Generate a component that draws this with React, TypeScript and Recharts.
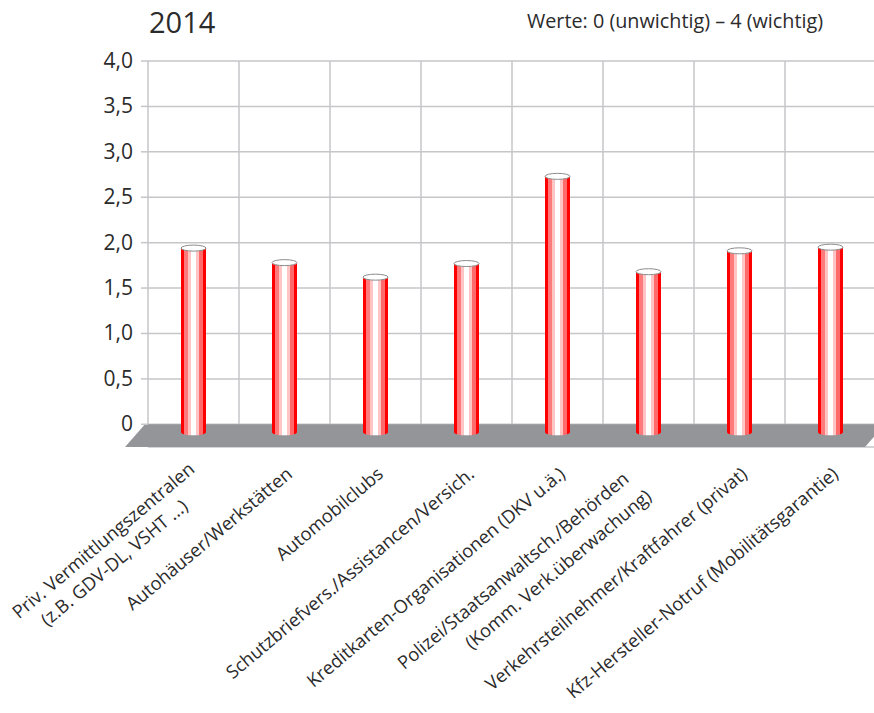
import React from 'react';
import { BarChart, Bar, XAxis, YAxis, CartesianGrid, ReferenceArea } from 'recharts';

const categories = [
  'Priv. Vermittlungszentralen\n(z.B. GDV-DL, VSHT ...)',
  'Autohäuser/Werkstätten',
  'Automobilclubs',
  'Schutzbriefvers./Assistancen/Versich.',
  'Kreditkarten-Organisationen (DKV u.ä.)',
  'Polizei/Staatsanwaltsch./Behörden\n(Komm. Verk.überwachung)',
  'Verkehrsteilnehmer/Kraftfahrer (privat)',
  'Kfz-Hersteller-Notruf (Mobilitätsgarantie)',
];
const values2014 = [1.94, 1.78, 1.62, 1.77, 2.73, 1.68, 1.91, 1.95];
const yTicks = [0, 0.5, 1, 1.5, 2, 2.5, 3, 3.5, 4];
const yTickLabels = ['0', '0,5', '1,0', '1,5', '2,0', '2,5', '3,0', '3,5', '4,0'];
const title = '2014';
const subtitle = 'Werte: 0 (unwichtig) – 4 (wichtig)';

const data = categories.map((name, i) => ({ name, value: values2014[i] }));

const FONT = '"Open Sans", sans-serif';
const TEXT = '#2b2b2b';
const GRID = '#c6c6c8';
const FLOOR = '#939598';

// per-label line placement (rotated frame: along text, perpendicular)
const lineLayout: Record<number, [number, number][]> = {
  0: [[-2, -8], [-31, 16]],
  5: [[-24, -14], [-18, 14]],
};

const XTick = (props: any) => {
  const { x, payload, index } = props;
  const lines = String(payload.value).split('\n');
  const layout = lineLayout[index] || [[0, 0]];
  return (
    <g transform={`translate(${x + 9},${476}) rotate(-40)`}>
      {lines.map((l, i) => (
        <text
          key={i}
          x={layout[i] ? layout[i][0] : 0}
          y={layout[i] ? layout[i][1] : 0}
          textAnchor="end"
          fontSize={18.3}
          fontFamily={FONT}
          fill={TEXT}
        >
          {l}
        </text>
      ))}
    </g>
  );
};

const YTick = (props: any) => {
  const { x, y, payload } = props;
  const idx = yTicks.indexOf(payload.value);
  return (
    <text x={x} y={y} dy={7} textAnchor="end" fontSize={21} fontFamily={FONT} fill={TEXT}>
      {yTickLabels[idx]}
    </text>
  );
};

const Cylinder = (props: any) => {
  const { x, y, width, height } = props;
  const rx = width / 2;
  const ry = 3;
  const bottom = y + height + 8;
  const d = `M${x},${y} L${x},${bottom} A${rx},${ry} 0 0 0 ${x + width},${bottom} L${x + width},${y} Z`;
  return (
    <g>
      <path d={d} fill="url(#cylGrad)" />
      <ellipse cx={x + rx} cy={y} rx={rx} ry={ry} fill="#ffffff" stroke="#8c8c8c" strokeWidth={1} />
    </g>
  );
};

const Floor = (props: any) => {
  const { x, y, width, height } = props;
  const pts = [
    [x - 3, y],
    [x + width + 9, y],
    [x + width - 11, y + height],
    [x - 23, y + height],
  ]
    .map((p) => p.join(','))
    .join(' ');
  return <polygon points={pts} fill={FLOOR} />;
};

export default function App() {
  return (
    <div
      style={{
        position: 'absolute',
        left: 0,
        top: 0,
        width: 874,
        height: 713,
        overflow: 'hidden',
        background: '#fff',
      }}
    >
      <svg width={874} height={50} style={{ position: 'absolute', left: 0, top: 0 }}>
        <text x={149} y={33} fontSize={29} fontFamily={FONT} fill={TEXT}>
          {title}
        </text>
        <text x={527} y={28} fontSize={19.8} fontFamily={FONT} fill={TEXT}>
          {subtitle}
        </text>
      </svg>
      <div style={{ position: 'absolute', left: 0, top: 0 }}>
        <BarChart
          width={876}
          height={713}
          data={data}
          margin={{ top: 61, right: 0, bottom: 0, left: 0 }}
        >
          <defs>
            <linearGradient id="cylGrad" x1="0" y1="0" x2="1" y2="0">
              <stop offset="0" stopColor="#ff0000" />
              <stop offset="0.13" stopColor="#ff0000" />
              <stop offset="0.13" stopColor="#ff7a7a" />
              <stop offset="0.27" stopColor="#ff7a7a" />
              <stop offset="0.27" stopColor="#ffc4c4" />
              <stop offset="0.4" stopColor="#ffc4c4" />
              <stop offset="0.4" stopColor="#ffffff" />
              <stop offset="0.6" stopColor="#ffffff" />
              <stop offset="0.6" stopColor="#ffc4c4" />
              <stop offset="0.73" stopColor="#ffc4c4" />
              <stop offset="0.73" stopColor="#ff6a6a" />
              <stop offset="0.87" stopColor="#ff6a6a" />
              <stop offset="0.87" stopColor="#ff0000" />
              <stop offset="1" stopColor="#ff0000" />
            </linearGradient>
          </defs>
          <CartesianGrid
            stroke={GRID}
            strokeWidth={1.5}
            verticalCoordinatesGenerator={({ offset }: any) =>
              Array.from({ length: categories.length + 1 }, (_, i) => offset.left + (i * offset.width) / categories.length)
            }
          />
          <XAxis
            dataKey="name"
            interval={0}
            height={266}
            tickLine={false}
            axisLine={false}
            tick={<XTick />}
          />
          <YAxis
            type="number"
            domain={[-0.25, 4]}
            ticks={yTicks}
            width={148}
            axisLine={false}
            tickSize={7}
            tickMargin={8}
            tickLine={{ stroke: GRID, strokeWidth: 1.5 }}
            tick={<YTick />}
            allowDataOverflow
          />
          <ReferenceArea y1={-0.25} y2={0} shape={<Floor />} ifOverflow="visible" />
          <Bar dataKey="value" barSize={25} shape={<Cylinder />} isAnimationActive={false} />
        </BarChart>
      </div>
    </div>
  );
}
